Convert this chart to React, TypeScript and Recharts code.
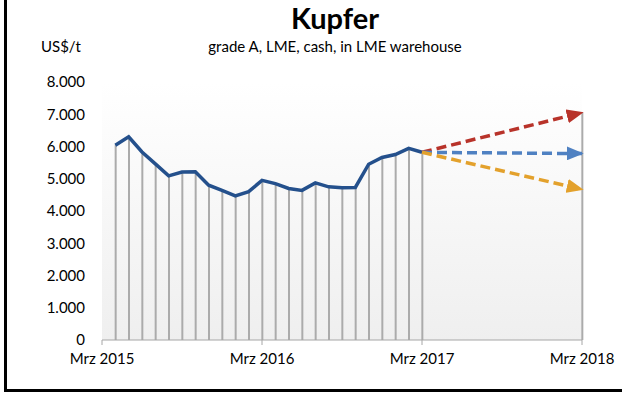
import { ComposedChart, Line, Bar, XAxis, YAxis, ReferenceArea } from "recharts";

// month index: 0 = Mrz 2015, 12 = Mrz 2016, 24 = Mrz 2017, 36 = Mrz 2018
const priceMonths = [1, 2, 3, 4, 5, 6, 7, 8, 9, 10, 11, 12, 13, 14, 15, 16, 17, 18, 19, 20, 21, 22, 23, 24];
const prices = [6040, 6300, 5830, 5460, 5090, 5210, 5220, 4800, 4640, 4470, 4600, 4950, 4850, 4700, 4640, 4870, 4750, 4720, 4730, 5450, 5660, 5750, 5940, 5820];

const forecastMonths = [24, 36];
const forecastHigh = [5820, 7050];
const forecastMid = [5820, 5780];
const forecastLow = [5820, 4670];

const xTicks = [0, 12, 24, 36];
const xTickLabels = ["Mrz 2015", "Mrz 2016", "Mrz 2017", "Mrz 2018"];
const yTicks = [0, 1000, 2000, 3000, 4000, 5000, 6000, 7000, 8000];

type Row = { m: number; price?: number; drop?: number; high?: number; mid?: number; low?: number };

const data: Row[] = priceMonths.map((m, i) => ({ m, price: prices[i], drop: prices[i] }));
forecastMonths.forEach((m, i) => {
  let row = data.find((r) => r.m === m);
  if (!row) {
    row = { m };
    data.push(row);
  }
  row.high = forecastHigh[i];
  row.mid = forecastMid[i];
  row.low = forecastLow[i];
  if (row.drop === undefined) row.drop = Math.max(forecastHigh[i], forecastMid[i], forecastLow[i]);
});

const font = "Lato, 'Open Sans', sans-serif";
const RED = "#b8332a";
const BLUE = "#4f81c2";
const YELLOW = "#e3a12c";

const fmtY = (v: number) => (v === 0 ? "0" : `${v / 1000}.000`);
const fmtX = (v: number) => xTickLabels[xTicks.indexOf(v)] ?? "";

function arrow(id: string, color: string) {
  return (
    <marker
      id={id}
      viewBox="0 0 10 10"
      refX="9"
      refY="5"
      markerWidth="17"
      markerHeight="14"
      markerUnits="userSpaceOnUse"
      preserveAspectRatio="none"
      orient="auto"
    >
      <path d="M0,0 L10,5 L0,10 z" fill={color} />
    </marker>
  );
}

export default function App() {
  return (
    <div style={{ position: "absolute", left: 0, top: 0, width: 622, height: 403, background: "#fff", fontFamily: font }}>
      <div
        style={{
          position: "absolute",
          left: 4,
          top: -10,
          width: 640,
          height: 399,
          borderLeft: "3px solid #000",
          borderBottom: "3px solid #000",
        }}
      />
      <div style={{ position: "absolute", left: 0, width: 670, top: 0, textAlign: "center", fontSize: 29, fontWeight: 700, lineHeight: "36px" }}>
        Kupfer
      </div>
      <div style={{ position: "absolute", left: 41, top: 37, fontSize: 15, lineHeight: "18px" }}>US$/t</div>
      <div style={{ position: "absolute", left: 0, width: 670, top: 37, textAlign: "center", fontSize: 15, lineHeight: "18px" }}>
        grade A, LME, cash, in LME warehouse
      </div>
      <div style={{ position: "absolute", left: 0, top: 0 }}>
        <ComposedChart width={622} height={403} data={data} margin={{ top: 82, right: 40, left: 0, bottom: 33 }}>
          <defs>
            <linearGradient id="bg" x1="0" y1="0" x2="0" y2="1">
              <stop offset="0" stopColor="#ffffff" />
              <stop offset="1" stopColor="#efefef" />
            </linearGradient>
            {arrow("arrRed", RED)}
            {arrow("arrBlue", BLUE)}
            {arrow("arrYellow", YELLOW)}
          </defs>
          <XAxis
            dataKey="m"
            type="number"
            domain={[0, 36]}
            ticks={xTicks}
            tickFormatter={fmtX}
            interval={0}
            height={30}
            stroke="#a6a6a6"
            tickSize={5}
            tickMargin={8}
            tick={{ fill: "#000", fontSize: 15, fontFamily: font }}
          />
          <YAxis
            domain={[0, 8000]}
            ticks={yTicks}
            tickFormatter={fmtY}
            width={102}
            axisLine={false}
            tickLine={false}
            tickSize={6}
            tickMargin={11}
            tick={{ fill: "#000", fontSize: 15, fontFamily: font }}
          />
          <ReferenceArea x1={0} x2={36} y1={0} y2={8000} fill="url(#bg)" fillOpacity={1} stroke="none" />
          <Bar dataKey="drop" barSize={2} fill="#ababab" isAnimationActive={false} />
          <Line
            dataKey="price"
            type="linear"
            stroke="#24508c"
            strokeWidth={3.5}
            dot={false}
            activeDot={false}
            isAnimationActive={false}
          />
          <Line
            dataKey="high"
            type="linear"
            stroke={RED}
            strokeWidth={3.5}
            strokeDasharray="10 5"
            markerEnd="url(#arrRed)"
            dot={false}
            activeDot={false}
            isAnimationActive={false}
          />
          <Line
            dataKey="mid"
            type="linear"
            stroke={BLUE}
            strokeWidth={3.5}
            strokeDasharray="10 5"
            markerEnd="url(#arrBlue)"
            dot={false}
            activeDot={false}
            isAnimationActive={false}
          />
          <Line
            dataKey="low"
            type="linear"
            stroke={YELLOW}
            strokeWidth={3.5}
            strokeDasharray="10 5"
            markerEnd="url(#arrYellow)"
            dot={false}
            activeDot={false}
            isAnimationActive={false}
          />
        </ComposedChart>
      </div>
    </div>
  );
}
